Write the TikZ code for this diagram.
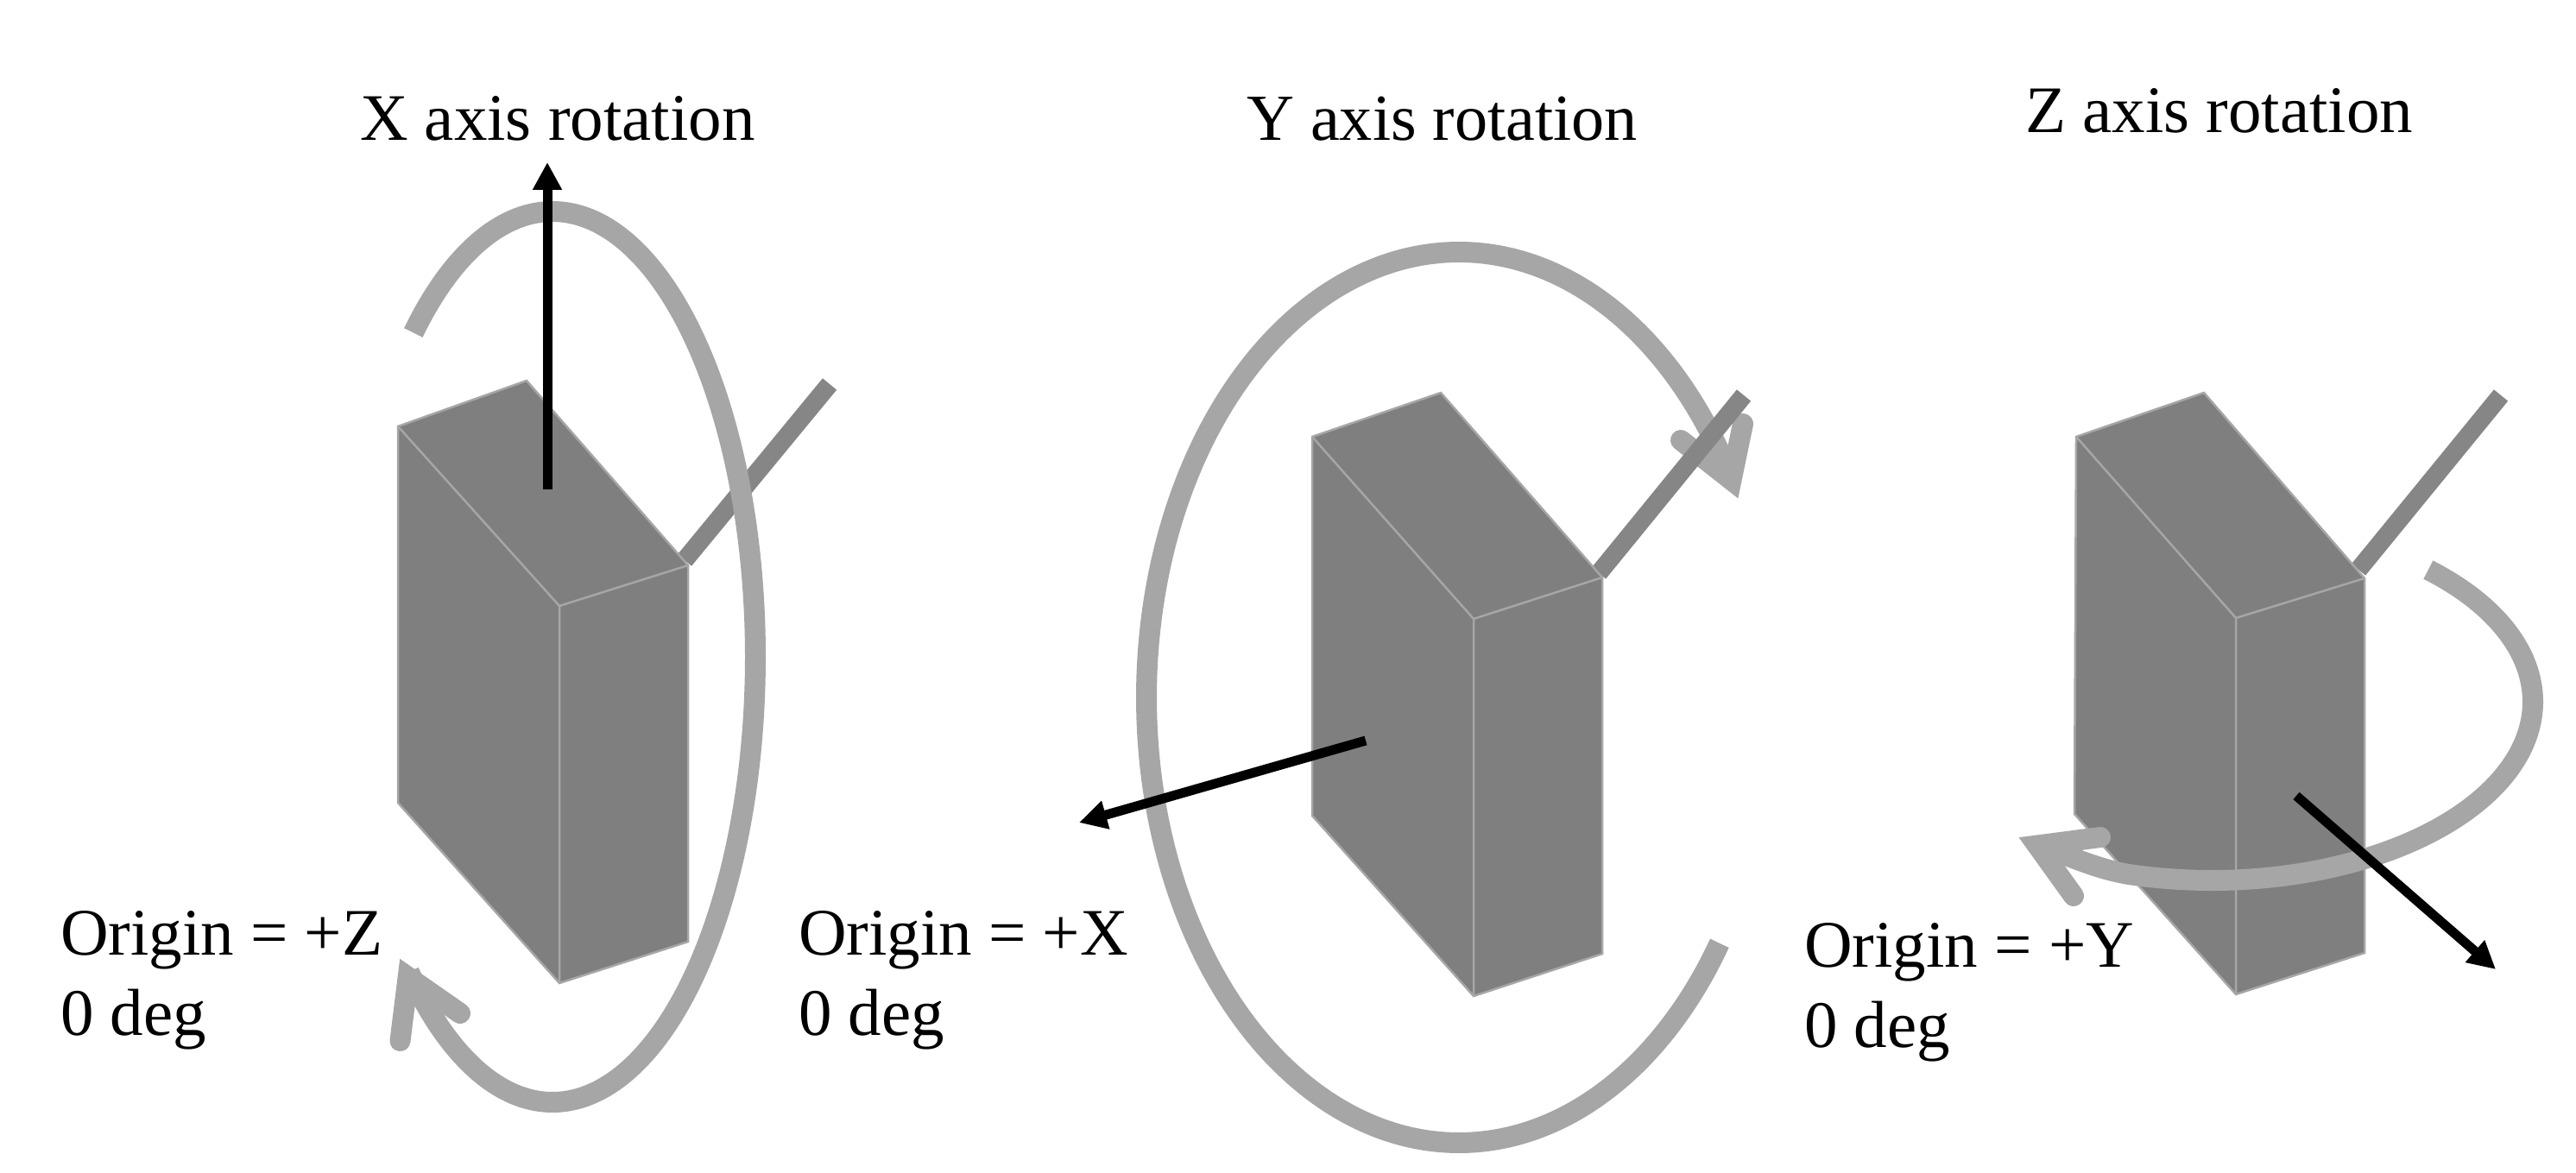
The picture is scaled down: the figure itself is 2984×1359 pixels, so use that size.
\documentclass[tikz,border=0pt]{standalone}
\usepackage{fontspec}
\setmainfont{Liberation Serif}
\usetikzlibrary{arrows.meta}
\definecolor{ringgray}{HTML}{A6A6A6}
\definecolor{facegray}{HTML}{7F7F7F}
\definecolor{stubgray}{HTML}{868686}
\tikzset{
  ring/.style={draw=ringgray,line width=24pt,line cap=butt},
  ringhead/.style={draw=ringgray,line width=24pt,line cap=round,line join=miter,miter limit=10},
  boxface/.style={fill=facegray,draw=ringgray,line width=2.5pt,line join=miter},
  boxedge/.style={draw=ringgray,line width=2.5pt},
  stub/.style={draw=stubgray,line width=21pt,line cap=butt},
  axisarrow/.style={draw=black,line width=11pt,-{Triangle[length=32pt,width=32pt]}},
  lbl/.style={font=\fontsize{77}{92}\selectfont,anchor=base west,inner sep=0pt,outer sep=0pt,text=black}
}
\begin{document}
\begin{tikzpicture}[x=1pt,y=-1pt]
\useasboundingbox[fill=white] (0,0) rectangle (2984,1359);
% ---------- X ----------
\coordinate (aS) at (793,649); \coordinate (aE) at (961,445);
\draw[stub] (aS) -- (aE);
\coordinate (aA) at (461,494); \coordinate (aB) at (610,441); \coordinate (aC) at (797,655);
\coordinate (aD) at (648,702); \coordinate (aE1) at (461,930); \coordinate (aF) at (648,1139); \coordinate (aG) at (797,1091);
\path[boxface] (aA) -- (aB) -- (aC) -- (aG) -- (aF) -- (aE1) -- cycle;
\draw[boxedge] (aA) -- (aD) -- (aC) (aD) -- (aF);
\draw[ring] plot[domain=226.7:495,samples=160,smooth] ({640+235*cos(\x)},{761+516*sin(\x)});
\coordinate (aH) at (472.7,1132);
\draw[ringhead] (463.5,1206) -- (aH) -- (533,1174);
\coordinate (aP) at (634,567); \coordinate (aQ) at (634,188);
\draw[axisarrow] (aP) -- (aQ);
\node[lbl] (t1) at (417,163) {X axis rotation};
\node[lbl] (o1) at (70,1106) {Origin = +Z};
\node[lbl] (d1) at (70,1199) {0 deg};
% ---------- Y ----------
\draw[ring] plot[domain=33.5:331,samples=160,smooth] ({1690+362*cos(\x)},{808+516*sin(\x)});
\coordinate (bH) at (2005.5,556);
\draw[ringhead] (2019,491) -- (bH) -- (1947,510);
\coordinate (bS) at (1852,664); \coordinate (bE) at (2020,458);
\draw[stub] (bS) -- (bE);
\coordinate (bA) at (1520,506); \coordinate (bB) at (1669,455); \coordinate (bC) at (1856,669);
\coordinate (bD) at (1707,717); \coordinate (bE1) at (1520,945); \coordinate (bF) at (1707,1154); \coordinate (bG) at (1856,1105);
\path[boxface] (bA) -- (bB) -- (bC) -- (bG) -- (bF) -- (bE1) -- cycle;
\draw[boxedge] (bA) -- (bD) -- (bC) (bD) -- (bF);
\coordinate (bP) at (1582,858); \coordinate (bQ) at (1250,953);
\draw[axisarrow] (bP) -- (bQ);
\node[lbl,font=\fontsize{76.2}{92}\selectfont] (t2) at (1444,163) {Y axis rotation};
\node[lbl] (o2) at (925,1106) {Origin = +X};
\node[lbl] (d2) at (925,1199) {0 deg};
% ---------- Z ----------
\coordinate (cS) at (2732,660); \coordinate (cE) at (2897,458);
\draw[stub] (cS) -- (cE);
\coordinate (cA) at (2405,506); \coordinate (cB) at (2553,455); \coordinate (cC) at (2739,670);
\coordinate (cD) at (2590,716); \coordinate (cE1) at (2403,943); \coordinate (cF) at (2590,1152); \coordinate (cG) at (2739,1104);
\path[boxface] (cA) -- (cB) -- (cC) -- (cG) -- (cF) -- (cE1) -- cycle;
\draw[boxedge] (cA) -- (cD) -- (cC) (cD) -- (cF);
\coordinate (cH) at (2360,979.5);
\draw[ring] plot[domain=-47.6:105,samples=120,smooth] ({2562+372*cos(\x)},{813+207*sin(\x)}) .. controls (2425,1006) and (2395,990) .. (cH);
\draw[ringhead] (2433,970) -- (cH) -- (2402,1038);
\coordinate (cP) at (2660,922); \coordinate (cQ) at (2891,1123);
\draw[axisarrow] (cP) -- (cQ);
\node[lbl] (t3) at (2346,154) {Z axis rotation};
\node[lbl] (o3) at (2090,1120) {Origin = +Y};
\node[lbl] (d3) at (2090,1213) {0 deg};
\end{tikzpicture}
\end{document}
